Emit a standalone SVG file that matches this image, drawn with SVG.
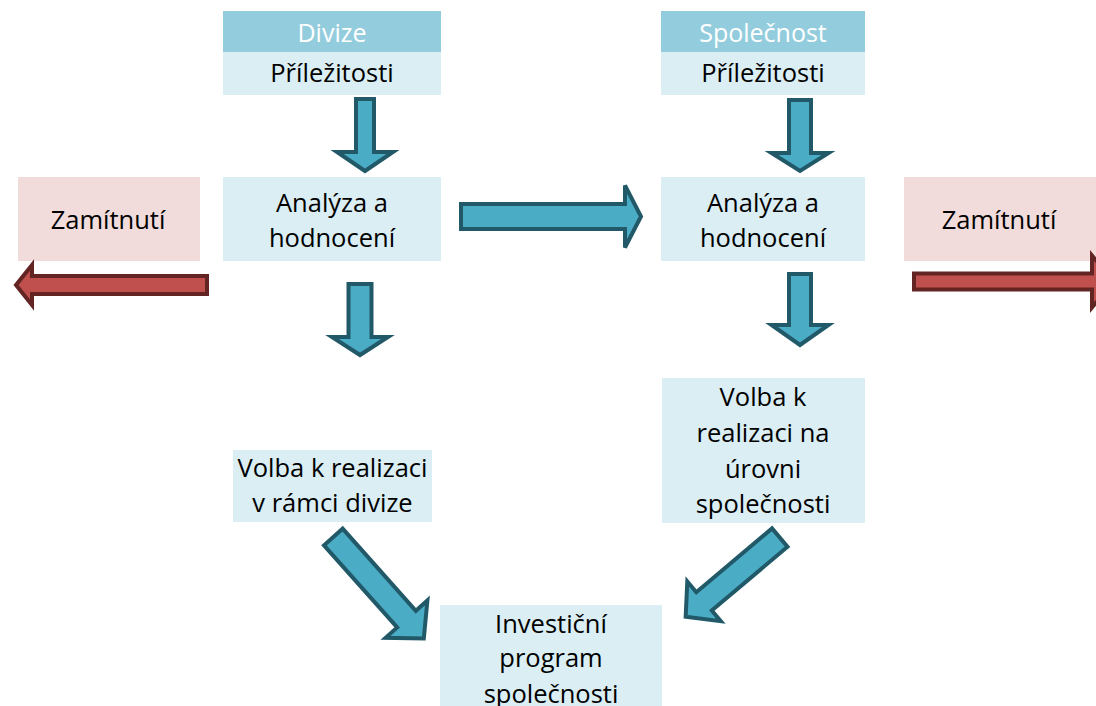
<svg xmlns="http://www.w3.org/2000/svg" width="1096" height="706" viewBox="0 0 1096 706">
<style>
.box{fill:#DAEEF3}
.hdr{fill:#93CDDD}
.rej{fill:#F2DCDB}
.t{font-family:"Open Sans","Liberation Sans",sans-serif;font-size:25.5px;fill:#000;text-anchor:middle}
.th{font-family:"Open Sans","Liberation Sans",sans-serif;font-size:25px;fill:#fff;text-anchor:middle}
.ab{fill:#4BACC6;stroke:#215968;stroke-width:4;stroke-linejoin:miter}
.ar{fill:#C0504D;stroke:#632523;stroke-width:4;stroke-linejoin:miter}
</style>
<rect width="1096" height="706" fill="#fff"/>
<g id="divize">
<rect class="hdr" x="223" y="11" width="218" height="41"/>
<text class="th" x="332" y="42">Divize</text>
<rect class="box" x="223" y="52" width="218" height="43"/>
<text class="t" x="332" y="82">Příležitosti</text>
</g>
<g id="spolecnost">
<rect class="hdr" x="661" y="11" width="204" height="41"/>
<text class="th" x="763" y="42">Společnost</text>
<rect class="box" x="661" y="52" width="204" height="43"/>
<text class="t" x="763" y="82">Příležitosti</text>
</g>
<g id="analyza-divize">
<rect class="box" x="223" y="177" width="218" height="84"/>
<text class="t" x="332" y="212">Analýza a</text>
<text class="t" x="332" y="247">hodnocení</text>
</g>
<g id="analyza-spolecnost">
<rect class="box" x="661" y="177" width="204" height="84"/>
<text class="t" x="763" y="212">Analýza a</text>
<text class="t" x="763" y="247">hodnocení</text>
</g>
<g id="zamitnuti-levy">
<rect class="rej" x="18" y="177" width="182" height="84"/>
<text class="t" x="108" y="228.5">Zamítnutí</text>
</g>
<g id="zamitnuti-pravy">
<rect class="rej" x="904" y="177" width="192" height="84"/>
<text class="t" x="999" y="229">Zamítnutí</text>
</g>
<g id="volba-divize">
<rect class="box" x="233" y="450" width="199" height="72"/>
<text class="t" x="332.5" y="477">Volba k realizaci</text>
<text class="t" x="332.5" y="512">v rámci divize</text>
</g>
<g id="volba-spolecnost">
<rect class="box" x="662" y="378" width="203" height="145"/>
<text class="t" x="763" y="406">Volba k</text>
<text class="t" x="763" y="441.5">realizaci na</text>
<text class="t" x="763" y="477.5">úrovni</text>
<text class="t" x="763" y="513">společnosti</text>
</g>
<g id="investicni-program">
<rect class="box" x="440" y="605" width="222" height="101"/>
<text class="t" x="551" y="633">Investiční</text>
<text class="t" x="551" y="667">program</text>
<text class="t" x="551" y="703">společnosti</text>
</g>
<g id="connectors">
<polygon class="ab" points="356,99 374,99 374,152 393,152 365,171 337,152 356,152"/>
<polygon class="ab" points="348.5,284 371.5,284 371.5,337 388,337 360,355 332,337 348.5,337"/>
<polygon class="ab" points="789,100 811,100 811,153 828.5,153 800,171 771.5,153 789,153"/>
<polygon class="ab" points="789,274 811,274 811,325 828.5,325 800,345 771.5,325 789,325"/>
<polygon class="ab" points="461,204 625,204 625,185.5 641,216.5 625,247.5 625,229 461,229"/>
<polygon class="ar" points="207,276 32,276 32,265 16,285 32,305 32,294 207,294"/>
<polygon class="ar" points="914,273.5 1092,273.5 1092,255.5 1114,281.5 1092,307.5 1092,289.5 914,289.5"/>
<polygon class="ab" transform="translate(332,535.5) rotate(48.3)" points="2,-12.5 112,-12.5 112,-28 138,0 112,28 112,12.5 2,12.5"/>
<polygon class="ab" transform="translate(781.3,536.3) rotate(139.9)" points="2,-12 101,-12 101,-26 125,0 101,26 101,12 2,12"/>
</g>
</svg>
